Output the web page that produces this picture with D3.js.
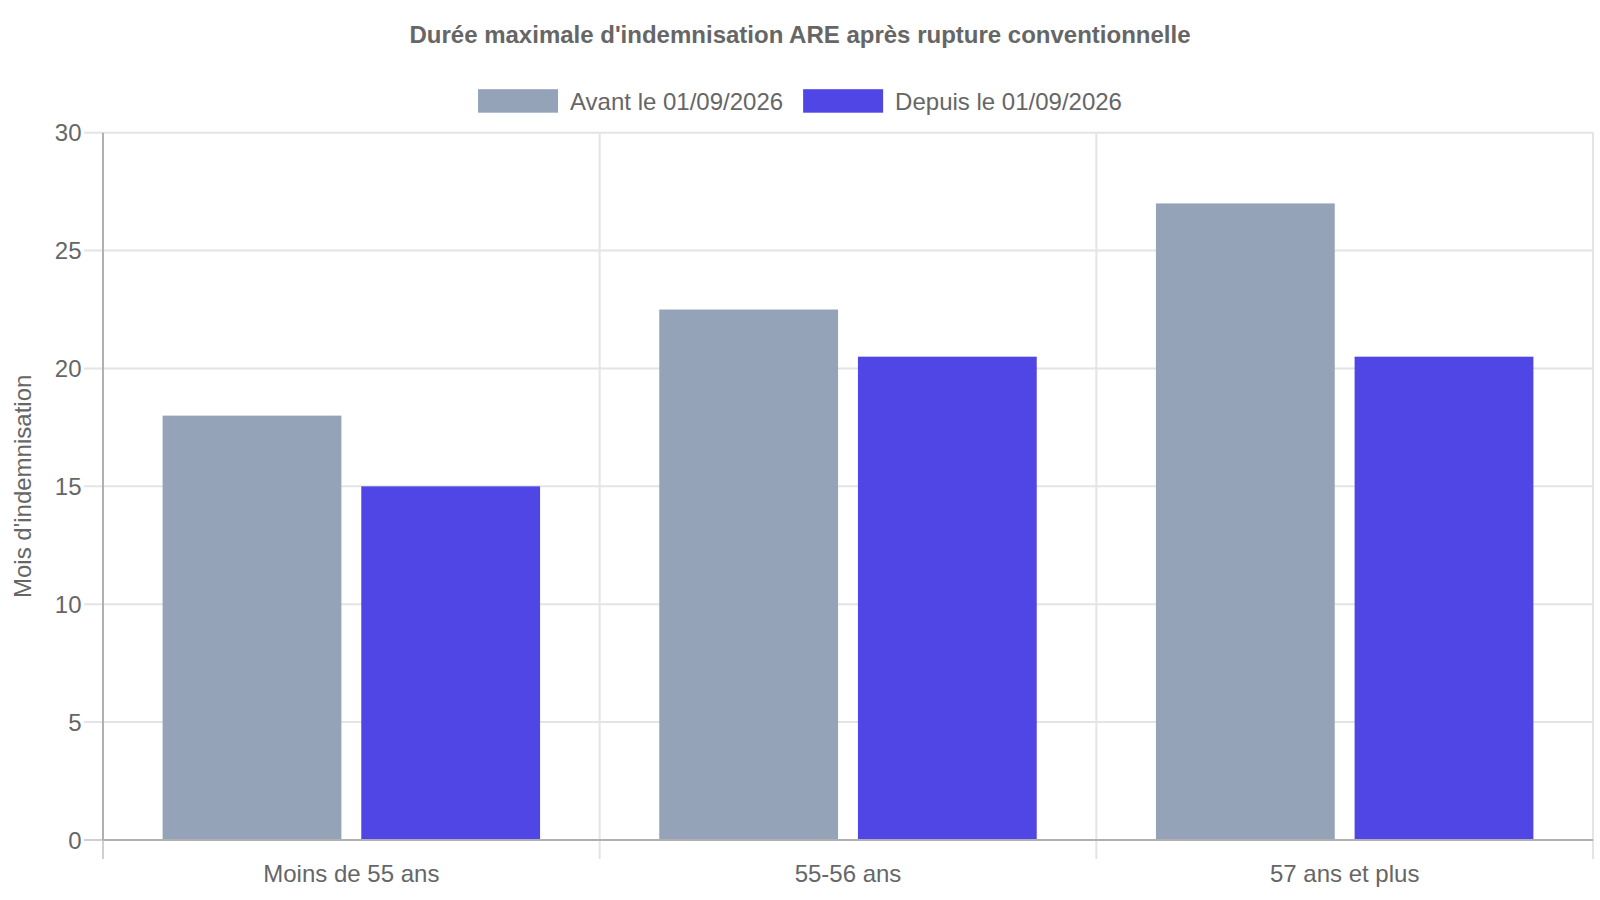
<!DOCTYPE html>
<html><head><meta charset="utf-8">
<script src="https://cdn.jsdelivr.net/npm/d3@7"></script>
<style>body{margin:0;background:#fff}text{font-family:"Liberation Sans",Arial,sans-serif;fill:#666}</style>
</head><body>
<svg id="c" width="1600" height="900"></svg>
<script>
const categories = ["Moins de 55 ans", "55-56 ans", "57 ans et plus"];
const seriesNames = ["Avant le 01/09/2026", "Depuis le 01/09/2026"];
const avant = [18, 22.5, 27];
const depuis = [15, 20.5, 20.5];
const yTicks = [0, 5, 10, 15, 20, 25, 30];
const colors = ["#94a3b8", "#4f46e5"];
const title = "Durée maximale d'indemnisation ARE après rupture conventionnelle";
const yLabel = "Mois d'indemnisation";

const svg = d3.select("#c");
const L = 103, R = 1593, T = 132.7, B = 840;
const fs = 24, tick = 19;
const x = d3.scaleBand().domain(categories).range([L, R]).padding(0);
const bw = x.bandwidth();
const xs = d3.scaleBand().domain(seriesNames).range([bw*0.1, bw*0.9]).paddingInner(0.1).paddingOuter(0.05);
const y = d3.scaleLinear().domain([0, 30]).range([B, T]);
const grid = "#e4e4e4", axisC = "#b0b0b0";

// horizontal grid
svg.append("g").selectAll("line").data(yTicks.filter(d=>d>0)).join("line")
  .attr("x1", L-tick).attr("x2", R).attr("y1", d=>y(d)).attr("y2", d=>y(d))
  .attr("stroke", grid).attr("stroke-width", 2);
// vertical grid at category boundaries
const bounds = categories.map(c=>x(c)).concat([R]);
svg.append("g").selectAll("line").data(bounds).join("line")
  .attr("x1", d=>d).attr("x2", d=>d).attr("y1", T).attr("y2", B+tick)
  .attr("stroke", grid).attr("stroke-width", 2);
svg.append("line").attr("x1",L-tick).attr("x2",L).attr("y1",B).attr("y2",B).attr("stroke","#d0d0d0").attr("stroke-width",2);
svg.append("line").attr("x1",L).attr("x2",L).attr("y1",B).attr("y2",B+tick).attr("stroke","#d0d0d0").attr("stroke-width",2);

// bars
const data = [];
categories.forEach((c,i)=>{data.push({c, s:seriesNames[0], v:avant[i]}); data.push({c, s:seriesNames[1], v:depuis[i]});});
svg.append("g").selectAll("rect").data(data).join("rect")
  .attr("x", d=>x(d.c)+xs(d.s)).attr("width", xs.bandwidth())
  .attr("y", d=>y(d.v)).attr("height", d=>y(0)-y(d.v))
  .attr("fill", d=>colors[seriesNames.indexOf(d.s)]);

// axes lines
svg.append("line").attr("x1",L).attr("x2",L).attr("y1",T).attr("y2",B).attr("stroke",axisC).attr("stroke-width",2);
svg.append("line").attr("x1",L).attr("x2",R).attr("y1",B).attr("y2",B).attr("stroke",axisC).attr("stroke-width",2);

// y tick labels
svg.append("g").selectAll("text").data(yTicks).join("text")
  .attr("x", 81.5).attr("y", d=>y(d)+8.5).attr("text-anchor","end").attr("font-size",fs).text(d=>d);
// x labels
svg.append("g").selectAll("text").data(categories).join("text")
  .attr("x", d=>x(d)+bw/2).attr("y", 882).attr("text-anchor","middle").attr("font-size",fs).text(d=>d);
// y label
svg.append("text").attr("transform",`translate(31,${(T+B)/2}) rotate(-90)`).attr("text-anchor","middle").attr("font-size",fs).text(yLabel);
// title
svg.append("text").attr("x",800).attr("y",42.5).attr("text-anchor","middle").attr("font-size",fs).attr("font-weight","bold").text(title);

// legend
const leg = svg.append("g");
const items = leg.selectAll("g").data(seriesNames).join("g");
items.append("rect").attr("width",80).attr("height",23.5).attr("y",89.2).attr("fill",(d,i)=>colors[i]);
items.append("text").attr("x",92).attr("y",109.5).attr("font-size",fs).text(d=>d);
let widths = [];
items.each(function(){widths.push(this.querySelector("text").getComputedTextLength()+92);});
const gap = 20;
const total = d3.sum(widths) + gap*(widths.length-1);
let cx = 800 - total/2;
items.attr("transform",(d,i)=>{const t=`translate(${cx},0)`; cx += widths[i]+gap; return t;});
</script>
</body></html>
